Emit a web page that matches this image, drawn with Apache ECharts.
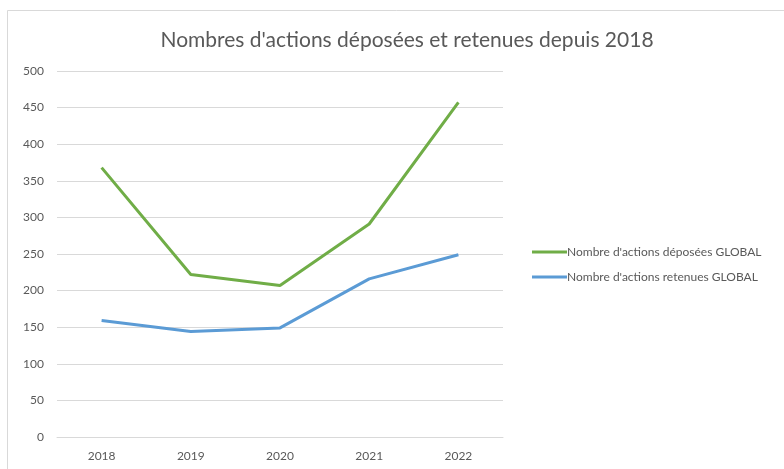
<!DOCTYPE html>
<html>
<head>
<meta charset="utf-8">
<script src="https://cdn.jsdelivr.net/npm/echarts@6/dist/echarts.min.js"></script>
<style>
  html, body { margin: 0; padding: 0; background: #fff; }
  #chart { width: 784px; height: 469px; }
</style>
</head>
<body>
<div id="chart"></div>
<script>
// données
const years = ["2018", "2019", "2020", "2021", "2022"];
const deposees = [368, 222, 207, 291, 457];
const retenues = [159, 144, 149, 216, 249];
const yTicks = { min: 0, max: 500, interval: 50 };

const chart = echarts.init(document.getElementById("chart"));
const font = "Lato, 'Open Sans', sans-serif";

chart.setOption({
  animation: false,
  backgroundColor: "#fff",
  textStyle: { fontFamily: font },
  graphic: [
    {
      type: "rect",
      shape: { x: 7.5, y: 10.5, width: 800, height: 470 },
      style: { fill: "none", stroke: "#d9d9d9", lineWidth: 1 },
      silent: true,
    },
  ],
  title: {
    text: "Nombres d'actions déposées et retenues depuis 2018",
    left: 402,
    textAlign: "center",
    top: 25,
    textStyle: { fontFamily: font, fontSize: 21, fontWeight: "normal", color: "#595959" },
  },
  legend: {
    orient: "vertical",
    left: 527,
    top: 241,
    icon: "rect",
    itemWidth: 35,
    itemHeight: 3,
    itemGap: 13,
    textStyle: { fontFamily: font, fontSize: 12, color: "#595959", padding: [0, 0, 0, -5] },
    data: ["Nombre d'actions déposées GLOBAL", "Nombre d'actions retenues GLOBAL"],
  },
  grid: { left: 57, right: 281, top: 71, bottom: 32, containLabel: false },
  xAxis: {
    type: "category",
    data: years,
    boundaryGap: true,
    axisLine: { lineStyle: { color: "#d9d9d9" } },
    axisTick: { show: false },
    axisLabel: { color: "#595959", fontSize: 12, margin: 13 },
  },
  yAxis: {
    type: "value",
    min: yTicks.min,
    max: yTicks.max,
    interval: yTicks.interval,
    axisLine: { show: false },
    axisTick: { show: false },
    axisLabel: { color: "#595959", fontSize: 12, margin: 13 },
    splitLine: { lineStyle: { color: "#d9d9d9" } },
  },
  series: [
    {
      name: "Nombre d'actions déposées GLOBAL",
      type: "line",
      data: deposees,
      symbol: "none",
      lineStyle: { width: 3, color: "#70ad47" },
      itemStyle: { color: "#70ad47" },
    },
    {
      name: "Nombre d'actions retenues GLOBAL",
      type: "line",
      data: retenues,
      symbol: "none",
      lineStyle: { width: 3, color: "#5b9bd5" },
      itemStyle: { color: "#5b9bd5" },
    },
  ],
});
</script>
</body>
</html>
